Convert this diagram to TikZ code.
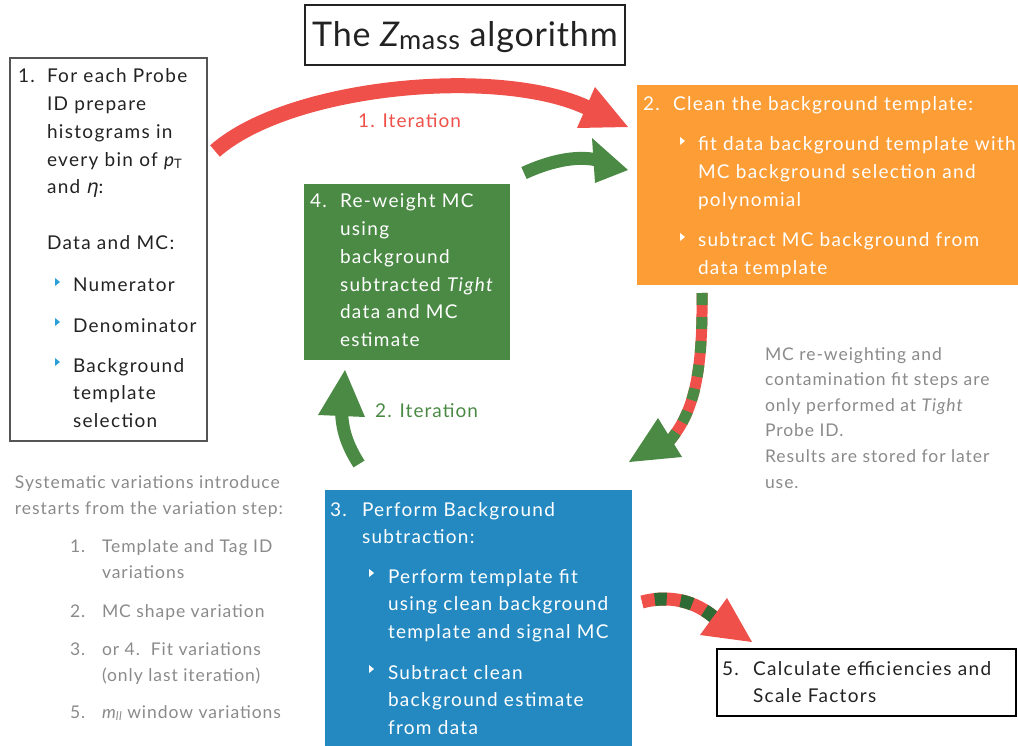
\documentclass[tikz,border=0pt]{standalone}
\usepackage{fontspec}
\setmainfont[LetterSpace=7]{Lato}
\newfontfamily\titlefont[LetterSpace=2.5]{Lato}
\newfontfamily\grayfont[LetterSpace=5.5]{Lato}
\newfontfamily\dejavu{DejaVu Sans}
\usetikzlibrary{calc}
\definecolor{cred}{HTML}{EF5049}
\definecolor{cgreen}{HTML}{4B8A45}
\definecolor{cdkgreen}{HTML}{2F6B34}
\definecolor{corange}{HTML}{FD9D36}
\definecolor{cblue}{HTML}{2589C1}
\definecolor{cgray}{HTML}{8A8A8A}
\definecolor{cdark}{HTML}{222222}
\definecolor{cbullet}{HTML}{2A9FD8}
\definecolor{cborder}{HTML}{555555}
\newcommand\tl[1]{\begin{tabular}[t]{@{}l@{}}#1\end{tabular}}
\newcommand\bullettri[3]{\fill[#3] (#1,#2) -- ++(5,4) -- ++(-5,4) -- cycle;}
\tikzset{
  boxnode/.style={anchor=north west, inner sep=0pt, outer sep=0pt},
  txt/.style={anchor=base west, inner sep=0pt, outer sep=0pt, font=\fontsize{19}{27.7}\selectfont},
  graytxt/.style={anchor=base west, inner sep=0pt, outer sep=0pt, text=cgray, font=\grayfont\fontsize{17.5}{25.6}\selectfont},
  graytxtb/.style={anchor=base west, inner sep=0pt, outer sep=0pt, text=cgray, font=\grayfont\fontsize{17.5}{26.5}\selectfont},
}
\begin{document}
\begin{tikzpicture}[x=1pt,y=-1pt]
\useasboundingbox (0,0) rectangle (1018,746);

% ---------- boxes ----------
\node[boxnode, draw=cdark, line width=1.8pt, minimum width=320pt, minimum height=60pt] (title) at (305,5) {};
\node[anchor=base, inner sep=0pt, text=cdark, font=\titlefont\fontsize{34}{34}\selectfont] (titletext) at (465,47)
  {The {\itshape Z}\raisebox{-3pt}{\fontsize{27}{27}\selectfont mass} algorithm};

\node[boxnode, draw=cborder, line width=2pt, minimum width=197pt, minimum height=383pt] (box1) at (10,58) {};
\node[boxnode, fill=corange, minimum width=400pt, minimum height=200pt] (box2) at (637,85) {};
\node[boxnode, fill=cgreen, minimum width=206pt, minimum height=176pt] (box4) at (304,184) {};
\node[boxnode, fill=cblue, minimum width=307pt, minimum height=270pt] (box3) at (325,490) {};
\node[boxnode, draw=black, line width=2pt, minimum width=299pt, minimum height=67pt] (box5) at (717,649) {};

% ---------- box 1 text ----------
\begin{scope}[every node/.append style={text=cdark}]
\node[txt] (b1n) at (18,83) {1.};
\node[txt] (b1t) at (47,83) {\tl{For each Probe\\ID prepare\\histograms in\\every bin of {\itshape p}\raisebox{-2pt}{\fontsize{13}{13}\selectfont T}\\and {\dejavu\itshape η}:\\ \\Data and MC:}};
\node[txt] (b1i1) at (73,292) {Numerator};
\node[txt] (b1i2) at (73,332) {Denominator};
\node[txt] (b1i3) at (73,372) {\tl{Background\\template\\selection}};
\end{scope}
\bullettri{55}{278}{cbullet}
\bullettri{55}{318}{cbullet}
\bullettri{55}{358}{cbullet}

% ---------- box 2 text ----------
\begin{scope}[every node/.append style={text=white}]
\node[txt] (b2n) at (643,111) {2.};
\node[txt] (b2t) at (673,111) {Clean the background template:};
\node[txt] (b2i1) at (698,151) {\tl{fit data background template with\\MC background selection and\\polynomial}};
\node[txt] (b2i2) at (698,247) {\tl{subtract MC background from\\data template}};
\end{scope}
\bullettri{680}{137}{white}
\bullettri{680}{233}{white}

% ---------- box 4 text ----------
\begin{scope}[every node/.append style={text=white}]
\node[txt] (b4n) at (310,208) {4.};
\node[txt] (b4t) at (340,208) {\tl{Re-weight MC\\using\\background\\subtracted {\itshape Tight}\\data and MC\\estimate}};
\end{scope}

% ---------- box 3 text ----------
\begin{scope}[every node/.append style={text=white}]
\node[txt] (b3n) at (330,516) {3.};
\node[txt] (b3t) at (362,516) {\tl{Perform Background\\subtraction:}};
\node[txt] (b3i1) at (388,583) {\tl{Perform template fit\\using clean background\\template and signal MC}};
\node[txt] (b3i2) at (388,679) {\tl{Subtract clean\\background estimate\\from data}};
\end{scope}
\bullettri{369}{569}{white}
\bullettri{369}{665}{white}

% ---------- box 5 text ----------
\begin{scope}[every node/.append style={text=cdark}]
\node[txt] (b5n) at (722,675) {5.};
\node[txt] (b5t) at (753,675) {\tl{Calculate efficiencies and\\Scale Factors}};
\end{scope}

% ---------- gray notes ----------
\node[graytxt] (note) at (765,360) {\tl{MC re-weighting and\\contamination fit steps are\\only performed at {\itshape Tight}\\Probe ID.\\Results are stored for later\\use.}};

\node[graytxtb] (sys) at (15,488) {\tl{Systematic variations introduce\\restarts from the variation step:}};
\node[graytxtb] (s1n) at (70,552) {1.};
\node[graytxtb] (s1t) at (102,552) {\tl{Template and Tag ID\\variations}};
\node[graytxtb] (s2n) at (70,617) {2.};
\node[graytxtb] (s2t) at (102,617) {MC shape variation};
\node[graytxtb] (s3n) at (70,655) {3.};
\node[graytxtb] (s3t) at (102,655) {\tl{or 4.\ \ Fit variations\\(only last iteration)}};
\node[graytxtb] (s5n) at (70,718) {5.};
\node[graytxtb] (s5t) at (102,718) {{\itshape m}\raisebox{-2pt}{\fontsize{12}{12}\selectfont\itshape ll} window variations};

% ---------- arrows ----------
% 1. Iteration (red)
\coordinate (r0) at (215,151);
\coordinate (r1) at (588,108);
\coordinate (rt) at (628,127);
\coordinate (ra) at (595,87);
\coordinate (rb) at (577,128);
\draw[cred, line width=15pt] (r0) .. controls (290,85) and (500,66) .. (r1);
\fill[cred] (rt) -- (ra) -- (rb) -- cycle;
\node[anchor=base west, inner sep=0pt, text=cred, font=\grayfont\fontsize{19}{19}\selectfont] (it1) at (358,128) {1. Iteration};

% green 4 -> 2
\coordinate (g0) at (524,173);
\coordinate (g1) at (597,160);
\coordinate (gt) at (628,170);
\coordinate (ga) at (592,138);
\coordinate (gb) at (595,183);
\draw[cgreen, line width=13pt] (g0) .. controls (548,162) and (575,155) .. (g1);
\fill[cgreen] (gt) -- (ga) -- (gb) -- cycle;

% 2. Iteration (green up)
\coordinate (h0) at (359,464);
\coordinate (h1) at (341.5,410);
\coordinate (ht) at (345,370);
\coordinate (ha) at (318,415);
\coordinate (hb) at (365,417);
\draw[cgreen, line width=13pt] (h0) .. controls (347,445) and (342,430) .. (h1);
\fill[cgreen] (ht) -- (ha) -- (hb) -- cycle;
\node[anchor=base west, inner sep=0pt, text=cgreen, font=\grayfont\fontsize{19}{19}\selectfont] (it2) at (375,417) {2. Iteration};

% dashed 2 -> 3
\coordinate (d0) at (702,293);
\coordinate (d1) at (668,443);
\coordinate (dt) at (629,462);
\coordinate (da) at (658,418);
\coordinate (db) at (682,457);
\draw[cred, line width=11pt] (d0) .. controls (703,380) and (692,415) .. (d1);
\draw[cgreen, line width=11pt, dash pattern=on 12pt off 12pt] (d0) .. controls (703,380) and (692,415) .. (d1);
\fill[cgreen] (dt) -- (da) -- (db) -- cycle;

% dashed 3 -> 5
\coordinate (e0) at (642,602);
\coordinate (e1) at (716,619);
\coordinate (et) at (752,642);
\coordinate (ea) at (727,598);
\coordinate (eb) at (700,635);
\draw[cred, line width=13pt] (e0) .. controls (668,595) and (695,600) .. (e1);
\draw[cdkgreen, line width=13pt, dash pattern=on 0pt off 13pt on 12pt off 1pt] (e0) .. controls (668,595) and (695,600) .. (e1);
\fill[cred] (et) -- (ea) -- (eb) -- cycle;
\end{tikzpicture}
\end{document}
